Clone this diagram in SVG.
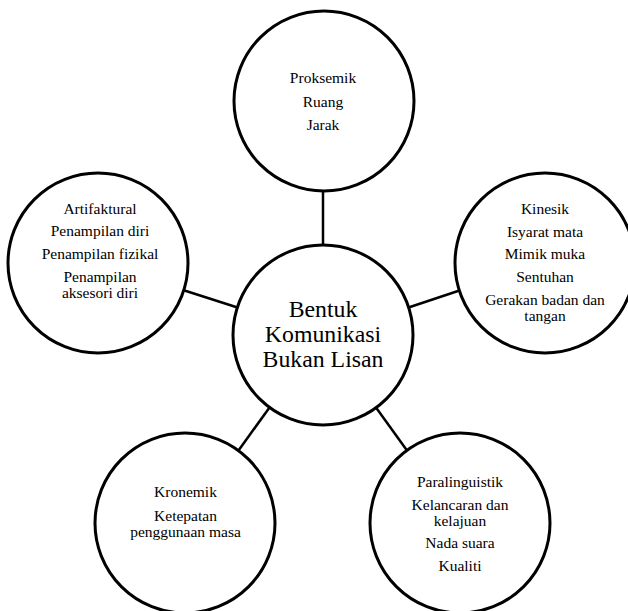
<svg xmlns="http://www.w3.org/2000/svg" width="628" height="611" viewBox="0 0 628 611">
<style>
.c{fill:#fff;stroke:#000;stroke-width:3}
.l{stroke:#000;stroke-width:2.5;fill:none}
text{font-family:"Liberation Serif","Times New Roman",serif;fill:#000;text-anchor:middle}
.s{font-size:15.5px}
.b{font-size:23.8px}
</style>
<rect width="628" height="611" fill="#fff"/>
<g id="connectors">
<line class="l" x1="323" y1="191" x2="323" y2="245"/>
<line class="l" x1="184.5" y1="290.5" x2="237.5" y2="307.5"/>
<line class="l" x1="459.5" y1="290.5" x2="408.5" y2="307.5"/>
<line class="l" x1="238.5" y1="450.5" x2="269.5" y2="407.5"/>
<line class="l" x1="407" y1="450.5" x2="376" y2="407.5"/>
</g>
<g id="center">
<circle class="c" cx="323" cy="335" r="90"/>
<text class="b" x="323" y="317">Bentuk</text>
<text class="b" x="323" y="342">Komunikasi</text>
<text class="b" x="323" y="367">Bukan Lisan</text>
</g>
<g id="proksemik">
<circle class="c" cx="324" cy="101" r="90"/>
<text class="s" x="323" y="83">Proksemik</text>
<text class="s" x="323" y="107">Ruang</text>
<text class="s" x="323" y="130">Jarak</text>
</g>
<g id="artifaktural">
<circle class="c" cx="98" cy="263" r="90"/>
<text class="s" x="100" y="214">Artifaktural</text>
<text class="s" x="100" y="236">Penampilan diri</text>
<text class="s" x="100" y="259">Penampilan fizikal</text>
<text class="s" x="100" y="282">Penampilan</text>
<text class="s" x="100" y="298">aksesori diri</text>
</g>
<g id="kinesik">
<circle class="c" cx="545" cy="263" r="90"/>
<text class="s" x="545" y="214">Kinesik</text>
<text class="s" x="545" y="237">Isyarat mata</text>
<text class="s" x="545" y="259">Mimik muka</text>
<text class="s" x="545" y="282">Sentuhan</text>
<text class="s" x="545" y="305">Gerakan badan dan</text>
<text class="s" x="545" y="321">tangan</text>
</g>
<g id="kronemik">
<circle class="c" cx="185" cy="523" r="90"/>
<text class="s" x="185.5" y="497">Kronemik</text>
<text class="s" x="185.5" y="521">Ketepatan</text>
<text class="s" x="185.5" y="537">penggunaan masa</text>
</g>
<g id="paralinguistik">
<circle class="c" cx="460" cy="523" r="90"/>
<text class="s" x="460" y="487">Paralinguistik</text>
<text class="s" x="460" y="510">Kelancaran dan</text>
<text class="s" x="460" y="526">kelajuan</text>
<text class="s" x="460" y="548">Nada suara</text>
<text class="s" x="460" y="571">Kualiti</text>
</g>
</svg>
